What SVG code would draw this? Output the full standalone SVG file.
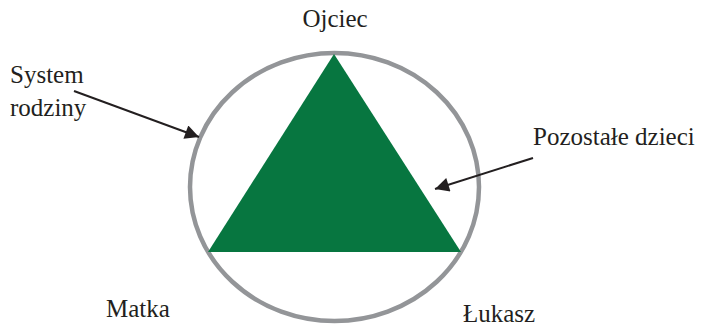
<svg xmlns="http://www.w3.org/2000/svg" width="703" height="327" viewBox="0 0 703 327">
  <style>
    .lbl { font-family: "Liberation Serif", "Times New Roman", serif; font-size: 25px; fill: #231f20; }
    .link { stroke: #231f20; stroke-width: 2; fill: none; }
  </style>
  <defs>
    <marker id="head" viewBox="0 0 10 10" refX="10" refY="5" markerWidth="8" markerHeight="7" markerUnits="strokeWidth" orient="auto">
      <path d="M0,0 L10,5 L0,10 z" fill="#231f20"/>
    </marker>
  </defs>
  <rect width="703" height="327" fill="#ffffff"/>

  <g id="family-system">
    <ellipse cx="334.5" cy="187" rx="144.5" ry="134" fill="none" stroke="#939598" stroke-width="4.5"/>
  </g>
  <g id="triangle">
    <polygon points="334,54 208,252 461,252" fill="#077640"/>
  </g>

  <g id="ojciec"><text class="lbl" x="335" y="27" text-anchor="middle">Ojciec</text></g>
  <g id="matka"><text class="lbl" x="106" y="317">Matka</text></g>
  <g id="lukasz"><text class="lbl" x="463" y="322">Łukasz</text></g>
  <g id="system-rodziny">
    <text class="lbl" x="10" y="83">System</text>
    <text class="lbl" x="10" y="116">rodziny</text>
  </g>
  <g id="pozostale-dzieci"><text class="lbl" x="533" y="145">Pozostałe dzieci</text></g>

  <g id="connectors">
    <line class="link" x1="74" y1="91" x2="199" y2="137" marker-end="url(#head)"/>
    <line class="link" x1="533" y1="158" x2="435" y2="189" marker-end="url(#head)"/>
  </g>
</svg>
